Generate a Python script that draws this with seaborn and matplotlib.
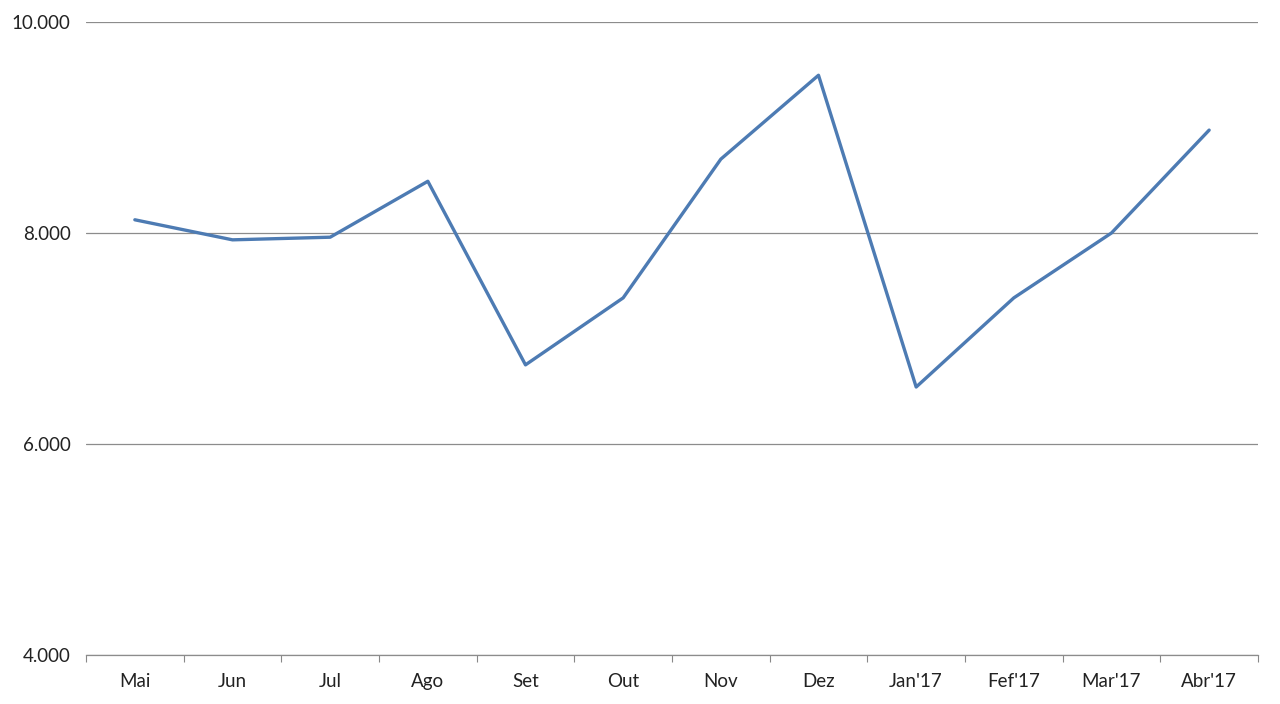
import matplotlib.pyplot as plt
import matplotlib.ticker as mtick
import pandas as pd
import seaborn as sns

MONTHS = ["Mai", "Jun", "Jul", "Ago", "Set", "Out", "Nov", "Dez",
          "Jan'17", "Fef'17", "Mar'17", "Abr'17"]
VALUES = [8125, 7935, 7960, 8490, 6750, 7385, 8700, 9495, 6540, 7385, 8000, 8975]
Y_TICKS = [4000, 6000, 8000, 10000]

sns.set_theme(style="white")
plt.rcParams["font.family"] = ["Lato", "DejaVu Sans"]

data = pd.DataFrame({"month": MONTHS, "value": VALUES})
data["pos"] = range(len(MONTHS))

fig = plt.figure(figsize=(12.8, 7.04), dpi=100)
ax = fig.add_axes([0.0672, 0.0696, 0.9156, 0.8992])

sns.lineplot(data=data, x="pos", y="value", color="#4D7BB3", linewidth=2.4, ax=ax)

ax.set_xlim(-0.5, len(MONTHS) - 0.5)
ax.set_ylim(Y_TICKS[0], Y_TICKS[-1])
ax.set_xticks(data["pos"])
ax.set_xticklabels(MONTHS)
ax.set_xticks([i - 0.5 for i in range(len(MONTHS) + 1)], minor=True)
ax.set_yticks(Y_TICKS)
ax.yaxis.set_major_formatter(mtick.FuncFormatter(lambda v, _: f"{int(v):,}".replace(",", ".")))

ax.tick_params(axis="x", which="major", length=0, pad=13, labelsize=13.5, labelcolor="#222222")
ax.tick_params(axis="x", which="minor", length=5, width=0.8, color="#888888", direction="out", bottom=True)
ax.tick_params(axis="y", length=0, pad=11, labelsize=13.5, labelcolor="#222222")

ax.grid(axis="y", color="#8C8C8C", linewidth=0.9)
ax.set_axisbelow(True)
for side in ["top", "right", "left"]:
    ax.spines[side].set_visible(False)
ax.spines["bottom"].set_color("#8C8C8C")
ax.spines["bottom"].set_linewidth(0.9)
ax.set_xlabel("")
ax.set_ylabel("")

fig.savefig("out.png", dpi=100)
plt.close(fig)
